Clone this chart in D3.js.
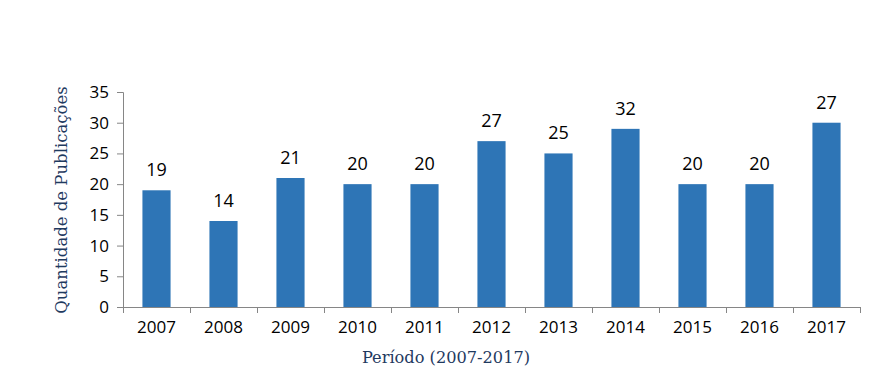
<!DOCTYPE html>
<html>
<head>
<meta charset="utf-8">
<script src="https://cdn.jsdelivr.net/npm/d3@7"></script>
<style>
  body { margin: 0; background: #fff; }
  svg { display: block; }
</style>
</head>
<body>
<svg id="chart"></svg>
<script>
// years on the x axis
const years = ["2007", "2008", "2009", "2010", "2011", "2012", "2013", "2014", "2015", "2016", "2017"]
// bar heights as drawn
const values = [19, 14, 21, 20, 20, 27, 25, 29, 20, 20, 30]
// labels printed over the bars (as in the source, not always equal to the bar)
const labels = ["19", "14", "21", "20", "20", "27", "25", "32", "20", "20", "27"]
const yTicks = [0, 5, 10, 15, 20, 25, 30, 35]

const width = 883
const height = 375
const margin = { top: 92, right: 23, bottom: 68, left: 123 }
const innerW = width - margin.left - margin.right
const innerH = height - margin.top - margin.bottom

const axisColor = "#868686"
const barColor = "#2E75B6"
const titleColor = "#1F3A5F"
const labelFont = "'Open Sans', sans-serif"
const titleFont = "'DejaVu Serif', serif"

const svg = d3.select("#chart").attr("width", width).attr("height", height)

// x scale, bars centred in each band
const xScale = d3.scaleBand()
  .domain(years)
  .range([0, innerW])
  .paddingInner(0.58)
  .paddingOuter(0.29)

const yScale = d3.scaleLinear()
  .domain([0, 35])
  .range([innerH, 0])

const graph = svg.append("g")
  .attr("transform", `translate(${margin.left}, ${margin.top})`)

// y axis
const yAxis = d3.axisLeft(yScale).tickValues(yTicks).tickSize(6).tickPadding(8)
const yG = graph.append("g").call(yAxis)
yG.select(".domain").attr("stroke", axisColor)
yG.selectAll(".tick line").attr("stroke", axisColor)
yG.selectAll(".tick text")
  .attr("fill", "#000")
  .style("font-family", labelFont)
  .style("font-size", "17px")

// x axis: labels centred, tick marks on band boundaries
const xAxis = d3.axisBottom(xScale).tickSize(0).tickPadding(14)
const xG = graph.append("g")
  .attr("transform", `translate(0, ${innerH})`)
  .call(xAxis)
xG.select(".domain").attr("stroke", axisColor).attr("d", `M0,0.5H${innerW}`)
xG.selectAll(".tick text")
  .attr("fill", "#000")
  .style("font-family", labelFont)
  .style("font-size", "17px")

const step = xScale.step()
const boundaries = d3.range(years.length + 1).map((i) => i * step)
xG.selectAll(".bound")
  .data(boundaries)
  .join("line")
  .attr("class", "bound")
  .attr("x1", (d) => d + 0.5)
  .attr("x2", (d) => d + 0.5)
  .attr("y1", 0)
  .attr("y2", 6)
  .attr("stroke", axisColor)

// bars
graph.selectAll(".bar")
  .data(values)
  .join("rect")
  .attr("class", "bar")
  .attr("x", (d, i) => xScale(years[i]))
  .attr("y", (d) => yScale(d))
  .attr("width", xScale.bandwidth())
  .attr("height", (d) => innerH - yScale(d))
  .attr("fill", barColor)

// value labels
graph.selectAll(".val")
  .data(values)
  .join("text")
  .attr("class", "val")
  .attr("x", (d, i) => xScale(years[i]) + xScale.bandwidth() / 2)
  .attr("y", (d) => yScale(d) - 14)
  .attr("text-anchor", "middle")
  .style("font-family", labelFont)
  .style("font-size", "18px")
  .attr("fill", "#000")
  .text((d, i) => labels[i])

// axis titles
svg.append("text")
  .attr("transform", "translate(67, 200) rotate(-90)")
  .attr("text-anchor", "middle")
  .style("font-family", titleFont)
  .style("font-size", "16.5px")
  .attr("fill", titleColor)
  .text("Quantidade de Publicações")

svg.append("text")
  .attr("x", 446)
  .attr("y", 363)
  .attr("text-anchor", "middle")
  .style("font-family", titleFont)
  .style("font-size", "16.2px")
  .attr("fill", titleColor)
  .text("Período (2007-2017)")
</script>
</body>
</html>
